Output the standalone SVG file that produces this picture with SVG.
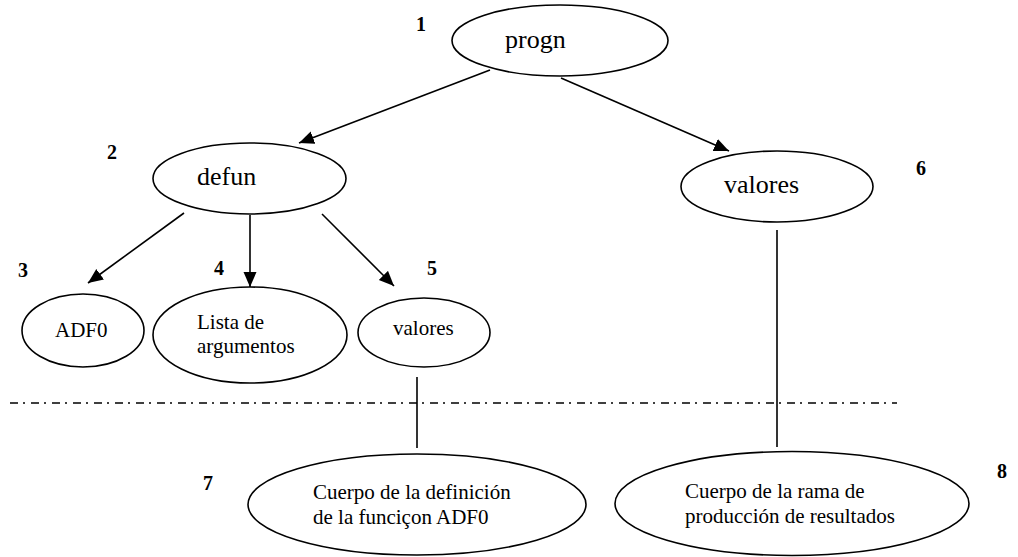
<svg xmlns="http://www.w3.org/2000/svg" width="1018" height="557" viewBox="0 0 1018 557">
  <style>
    .node { fill: #ffffff; stroke: #000000; stroke-width: 1.6; }
    .big { font-family: "Liberation Serif", "Times New Roman", serif; font-size: 26px; fill: #000; }
    .small { font-family: "Liberation Serif", "Times New Roman", serif; font-size: 21px; fill: #000; }
    .num { font-family: "Liberation Serif", "Times New Roman", serif; font-size: 20px; font-weight: bold; fill: #000; }
    .edge { stroke: #000000; stroke-width: 1.6; fill: none; }
    .arrow { marker-end: url(#head); }
    .divider { stroke: #000000; stroke-width: 1.6; stroke-dasharray: 8 5 2 6; fill: none; }
  </style>
  <defs>
    <marker id="head" markerUnits="userSpaceOnUse" markerWidth="16" markerHeight="14" refX="15" refY="6.5" orient="auto">
      <path d="M0,0 L15,6.5 L0,13 z" fill="#000000"/>
    </marker>
  </defs>

  <rect width="1018" height="557" fill="#ffffff"/>

  <!-- dash-dot separator between the tree and the bodies -->
  <line class="divider" x1="10" y1="403" x2="897" y2="403"/>

  <!-- connectors -->
  <g id="connectors">
    <line class="edge arrow" x1="490" y1="70" x2="299" y2="143"/>
    <line class="edge arrow" x1="561" y1="78" x2="729" y2="151"/>
    <line class="edge arrow" x1="184" y1="213" x2="88" y2="283"/>
    <line class="edge arrow" x1="250" y1="215" x2="250" y2="287"/>
    <line class="edge arrow" x1="322" y1="214" x2="394" y2="286"/>
    <line class="edge" x1="417" y1="377" x2="417" y2="448"/>
    <line class="edge" x1="777" y1="230" x2="777" y2="447"/>
  </g>

  <!-- nodes -->
  <g id="n1-progn">
    <ellipse class="node" cx="560" cy="40.5" rx="108" ry="35.5"/>
    <text class="big" x="505" y="48">progn</text>
    <text class="num" x="416" y="31">1</text>
  </g>
  <g id="n2-defun">
    <ellipse class="node" cx="249.5" cy="178.5" rx="96.5" ry="35.5"/>
    <text class="big" x="197" y="185">defun</text>
    <text class="num" x="107" y="159">2</text>
  </g>
  <g id="n3-adf0">
    <ellipse class="node" cx="83" cy="330.5" rx="61" ry="36.5"/>
    <text class="small" x="55" y="337">ADF0</text>
    <text class="num" x="18" y="277">3</text>
  </g>
  <g id="n4-lista">
    <ellipse class="node" cx="250" cy="335" rx="97" ry="48"/>
    <text class="small" x="197" y="329">Lista de</text>
    <text class="small" x="197" y="353">argumentos</text>
    <text class="num" x="214" y="275">4</text>
  </g>
  <g id="n5-valores">
    <ellipse class="node" cx="424" cy="332.5" rx="66" ry="34.5"/>
    <text class="small" x="393" y="335">valores</text>
    <text class="num" x="427" y="275">5</text>
  </g>
  <g id="n6-valores">
    <ellipse class="node" cx="777" cy="186.5" rx="96" ry="35.5"/>
    <text class="big" x="724" y="193">valores</text>
    <text class="num" x="916" y="175">6</text>
  </g>
  <g id="n7-cuerpo-adf0">
    <ellipse class="node" cx="417" cy="504.5" rx="169" ry="50.5"/>
    <text class="small" x="313" y="499">Cuerpo de la definición</text>
    <text class="small" x="313" y="524">de la funciçon ADF0</text>
    <text class="num" x="203" y="490">7</text>
  </g>
  <g id="n8-cuerpo-resultados">
    <ellipse class="node" cx="792" cy="503.5" rx="177" ry="52"/>
    <text class="small" x="685" y="498">Cuerpo de la rama de</text>
    <text class="small" x="685" y="523">producción de resultados</text>
    <text class="num" x="997" y="478">8</text>
  </g>
</svg>
